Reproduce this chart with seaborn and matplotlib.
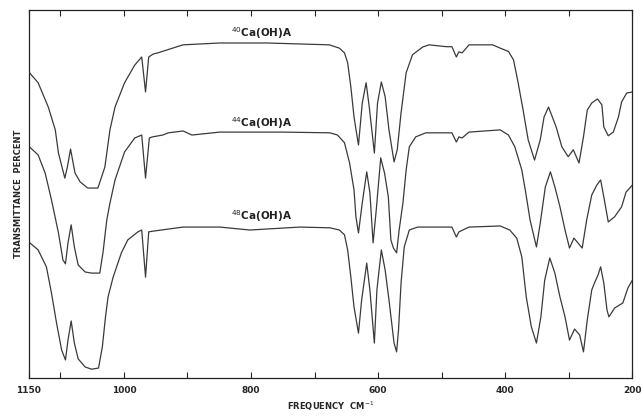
import pandas as pd
import matplotlib.pyplot as plt
import seaborn as sns

sns.set_style("ticks")
plt.rcParams['font.family'] = ['DejaVu Sans']

# Espectros IR (frecuencia cm-1, transmitancia relativa)
freq_40 = [1150, 1135, 1119, 1108, 1103, 1093, 1089, 1084, 1077, 1069, 1057, 1041, 1030, 1022, 1014,
           999, 983, 972, 966, 961, 954, 947, 907, 849, 775, 677, 661, 653, 648, 643, 638, 631, 625,
           619, 614, 606, 601, 595, 589, 583, 575, 570, 564, 556, 546, 530, 520, 493, 484, 477, 473,
           468, 457, 420, 408, 395, 387, 380, 372, 364, 354, 345, 339, 332, 326, 320, 311, 301, 293,
           284, 277, 271, 264, 255, 248, 245, 238, 230, 222, 217, 209, 200]
trans_40 = [83.2, 80.2, 73.6, 67.4, 61.1, 54.3, 57.3, 62.2, 55.7, 53.3, 51.6, 51.6, 57.3, 67.4, 73.6,
            80.2, 85, 87.2, 77.7, 87.2, 88, 88.3, 90.5, 91, 91, 90.5, 89.6, 88.3, 85.6, 79.1, 70.9, 63.3, 74.7,
            80.2, 73.6, 61.1, 74.7, 80.4, 76.4, 67.4, 58.7, 62, 72, 82.9, 87.8, 89.9, 90.5, 90, 90, 87.2, 88.6,
            88.3, 90.5, 90.5, 89.6, 88.7, 86.4, 80.4, 72.8, 64.7, 59.2, 64.7, 70.9, 73.6, 70.9, 68.2, 62.8, 60.1, 62,
            58.4, 65.5, 72.8, 74.7, 75.8, 74.2, 68.2, 65.8, 66.8, 70.9, 75, 77.4, 77.7]

freq_44 = [1150, 1135, 1124, 1114, 1103, 1096, 1092, 1088, 1083, 1078, 1072, 1061, 1051, 1038, 1033,
           1027, 1022, 1014, 999, 983, 972, 966, 960, 955, 939, 930, 907, 893, 849, 750, 676, 664, 653,
           645, 638, 635, 631, 625, 618, 613, 608, 603, 596, 590, 584, 580, 576, 571, 567, 561, 556,
           551, 541, 525, 484, 477, 473, 468, 457, 408, 395, 385, 374, 368, 361, 351, 345, 337, 329,
           322, 314, 306, 299, 292, 279, 272, 264, 256, 250, 245, 238, 228, 217, 210, 200]
trans_44 = [63, 60.6, 55.7, 48.4, 39.4, 32.1, 31, 36.7, 41.6, 35.6, 30.7, 28.8, 28.5, 28.5, 34,
            42.9, 47.5, 53.8, 61.4, 65.2, 66, 54.3, 65.2, 65.5, 66, 66.6, 67.1, 66, 66.8, 66.8, 66.6, 66, 63.9,
            58.4, 51.1, 43.8, 39.4, 47.6, 56, 50.3, 36.7, 45.7, 59.8, 55.7, 49.2, 37.5, 35.3, 34, 40.2, 47.6, 56.5,
            62.8, 65.5, 66.6, 66.6, 64.1, 65.5, 65.2, 66.8, 67.4, 66, 62.8, 56.5, 50.5, 42.9, 35.6, 42.1, 51.9, 56,
            51.9, 46.5, 40.2, 35.3, 38, 35.3, 42.9, 49.7, 52.4, 53.8, 49.2, 42.4, 43.8, 46.5, 50.5, 52.4]

freq_48 = [1150, 1135, 1122, 1114, 1106, 1098, 1092, 1088, 1083, 1078, 1072, 1061, 1051, 1040, 1034,
           1029, 1025, 1017, 1004, 994, 978, 972, 966, 961, 954, 907, 849, 802, 723, 676, 661, 653, 648,
           643, 638, 631, 626, 618, 613, 606, 602, 595, 589, 583, 578, 575, 571, 568, 564, 559, 551,
           538, 520, 484, 477, 473, 457, 408, 393, 382, 374, 367, 359, 351, 344, 338, 330, 322, 314,
           306, 299, 291, 283, 277, 271, 264, 259, 254, 250, 245, 240, 237, 228, 215, 207, 200]
trans_48 = [37, 34.8, 30.2, 23.1, 14.9, 7.6, 4.9, 10.3, 15.5, 9.5, 5.2, 3, 2.4, 2.7, 8.4,
            16.6, 22, 27.4, 34, 37.5, 39.7, 40.2, 27.4, 39.7, 39.9, 41, 41, 40.2, 41, 40.8, 40.2, 38.9, 34.8,
            27.4, 19.3, 12.2, 21.2, 31.2, 23.9, 9.5, 23.9, 34.8, 29.3, 21.2, 13.9, 9.5, 7.1, 13, 25.8, 35.6, 40.2,
            41, 41, 41, 38.3, 39.7, 41, 41.3, 40.2, 38, 32.9, 22, 13.9, 9.5, 16.6, 26.6, 32.6, 28.5, 22,
            16.6, 10.3, 13.3, 11.7, 7.1, 15.8, 23.9, 26.1, 28, 30.2, 25.8, 18.5, 16.6, 19, 20.4, 24.5, 26.6]

etiquetas = [r"$^{40}$Ca(OH)A", r"$^{44}$Ca(OH)A", r"$^{48}$Ca(OH)A"]
pos_etiqueta = [(783, 93.8), (783, 69.3), (783, 44)]

xticks = [1150, 1100, 1000, 900, 800, 700, 600, 500, 400, 300, 200]
xtick_labels = ["1150", "", "1000", "", "800", "", "600", "", "400", "", "200"]

frames = []
for f, t, lab in zip([freq_40, freq_44, freq_48], [trans_40, trans_44, trans_48], etiquetas):
    frames.append(pd.DataFrame({"freq": f, "trans": t, "muestra": lab}))
df = pd.concat(frames)

fig = plt.figure(figsize=(6.41, 4.16), dpi=100)
ax = fig.add_axes([0.0446, 0.0913, 0.942, 0.885])

sns.lineplot(data=df, x="freq", y="trans", hue="muestra", units="muestra", estimator=None,
             palette=["#3a3a3a"] * 3, linewidth=0.9, legend=False, ax=ax)

for lab, (x, y) in zip(etiquetas, pos_etiqueta):
    ax.text(x, y, lab, ha="center", va="center", fontsize=7.5, fontweight="bold", color="#222222")

ax.set_xlim(1150, 200)
ax.set_ylim(0, 100)
ax.set_xticks(xticks)
ax.set_xticklabels(xtick_labels, fontsize=6.5, fontweight="bold")
ax.set_yticks([])
ax.tick_params(axis="x", direction="in", top=True, length=4, pad=6)
for s in ax.spines.values():
    s.set_visible(True)
    s.set_linewidth(0.9)
    s.set_color("#222222")

ax.set_xlabel("FREQUENCY  CM$^{-1}$", fontsize=6, fontweight="bold", labelpad=3)
ax.set_ylabel("TRANSMITTANCE  PERCENT", fontsize=6, fontweight="bold", labelpad=4)

plt.savefig("out.png", dpi=100)
